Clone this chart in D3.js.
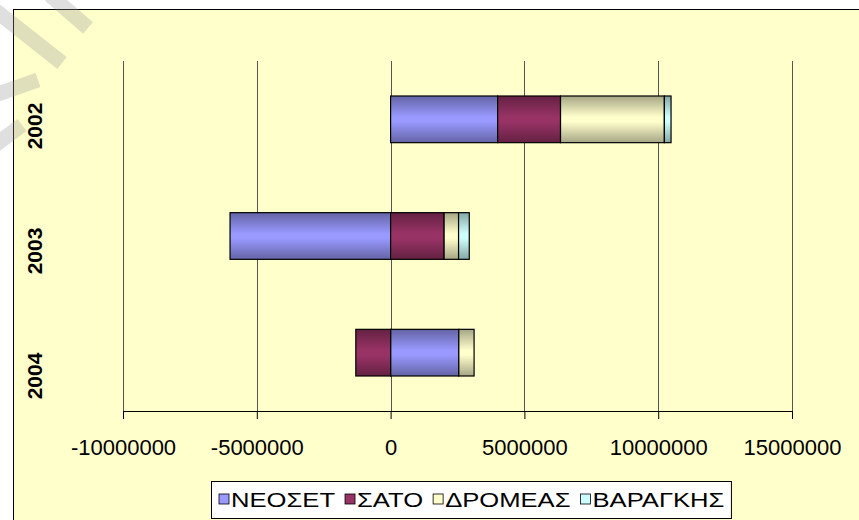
<!DOCTYPE html>
<html>
<head>
<meta charset="utf-8">
<script src="https://cdn.jsdelivr.net/npm/d3@7"></script>
<style>
  body { margin: 0; background: #fff; }
  svg { display: block; font-family: "Liberation Sans", Arial, sans-serif; }
</style>
</head>
<body>
<svg id="chart" width="859" height="520"></svg>
<script>
// data
var years = ["2002", "2003", "2004"];
var seriesNames = ["ΝΕΟΣΕΤ", "ΣΑΤΟ", "ΔΡΟΜΕΑΣ", "ΒΑΡΑΓΚΗΣ"];
var neoset   = [4000000, -6000000, 2550000];
var sato     = [2350000,  2000000, -1300000];
var dromeas  = [3880000,   540000,  570000];
var varagkis = [ 250000,   400000,       0];
var xTicks = [-10000000, -5000000, 0, 5000000, 10000000, 15000000];

var colors = ["#9999FF", "#993366", "#FFFFCC", "#CCFFFF"];

var rows = years.map(function(y, i) {
    return {year: y, "ΝΕΟΣΕΤ": neoset[i], "ΣΑΤΟ": sato[i], "ΔΡΟΜΕΑΣ": dromeas[i], "ΒΑΡΑΓΚΗΣ": varagkis[i]};
});

var svg = d3.select("#chart");

// chart area
svg.append("rect")
    .attr("x", 13.5).attr("y", 9.5)
    .attr("width", 900).attr("height", 600)
    .attr("fill", "#FFFFCC")
    .attr("stroke", "#000");

var x = d3.scaleLinear().domain([-10000000, 15000000]).range([123, 792]);
var y = d3.scaleBand().domain(years).range([61, 411]).paddingInner(0.6).paddingOuter(0.3);
// the rotated year labels sit a bit off the bar centres
var yLab = d3.scalePoint().domain(years).range([126, 376]);

// gradients for the shaded bars
var defs = svg.append("defs");
colors.forEach(function(c, i) {
    var g = defs.append("linearGradient").attr("id", "g" + i)
        .attr("x1", 0).attr("y1", 0).attr("x2", 0).attr("y2", 1);
    var dark = d3.color(c).darker(1.2);
    g.append("stop").attr("offset", "0%").attr("stop-color", dark);
    g.append("stop").attr("offset", "45%").attr("stop-color", c);
    g.append("stop").attr("offset", "55%").attr("stop-color", c);
    g.append("stop").attr("offset", "100%").attr("stop-color", dark);
});

// gridlines
svg.append("g").selectAll("line")
    .data(xTicks)
    .enter().append("line")
    .attr("x1", function(d) { return Math.round(x(d)) + 0.5; })
    .attr("x2", function(d) { return Math.round(x(d)) + 0.5; })
    .attr("y1", 61).attr("y2", 411)
    .attr("stroke", "#555").attr("stroke-width", 1);

// stacked bars
var stack = d3.stack().keys(seriesNames).offset(d3.stackOffsetDiverging);
var layers = stack(rows);

svg.append("g").selectAll("g")
    .data(layers)
    .enter().append("g")
    .attr("fill", function(d, i) { return "url(#g" + i + ")"; })
    .selectAll("rect")
    .data(function(d) { return d; })
    .enter().append("rect")
    .filter(function(d) { return d[1] !== d[0]; })
    .attr("x", function(d) { return x(Math.min(d[0], d[1])); })
    .attr("width", function(d) { return Math.abs(x(d[1]) - x(d[0])); })
    .attr("y", function(d) { return y(d.data.year); })
    .attr("height", y.bandwidth())
    .attr("stroke", "#000").attr("stroke-width", 1.2);

// x axis
var xAxis = d3.axisBottom(x).tickValues(xTicks).tickSize(8).tickPadding(20)
    .tickFormat(function(d) { return String(d); });
var ax = svg.append("g").attr("transform", "translate(0,411)").call(xAxis);
ax.select(".domain").attr("stroke", "#000");
ax.selectAll(".tick line").attr("stroke", "#000");
ax.selectAll("text").attr("font-size", "22px").attr("fill", "#000")
    .attr("font-family", "Liberation Sans, Arial, sans-serif");

// category labels (rotated)
svg.append("g").selectAll("text")
    .data(years)
    .enter().append("text")
    .attr("transform", function(d) {
        return "translate(42," + yLab(d) + ") rotate(-90)";
    })
    .attr("text-anchor", "middle")
    .attr("font-size", "21px").attr("font-weight", "bold")
    .text(function(d) { return d; });

// legend
var leg = svg.append("g");
var legBox = leg.append("rect")
    .attr("y", 481.5).attr("height", 37)
    .attr("fill", "#fff").attr("stroke", "#000");
var cx = 219;
var stretch = 1.22;
seriesNames.forEach(function(name, i) {
    leg.append("rect")
        .attr("x", cx).attr("y", 494).attr("width", 10).attr("height", 10)
        .attr("fill", colors[i]).attr("stroke", "#000").attr("stroke-width", 0.8);
    var t = leg.append("text")
        .attr("transform", "translate(" + (cx + 12) + ",507) scale(" + stretch + ",1)")
        .attr("font-size", "21px")
        .text(name);
    cx = cx + 12 + t.node().getComputedTextLength() * stretch + 10;
});
legBox.attr("x", 211.5).attr("width", cx - 211.5 - 3);

// faint watermark strokes in the corner
var wm = svg.append("g").attr("stroke", "rgba(150,150,150,0.3)")
    .attr("stroke-width", 15).attr("stroke-linecap", "butt");
wm.append("line").attr("x1", 50).attr("y1", -5).attr("x2", 88).attr("y2", 28);
wm.append("line").attr("x1", -5).attr("y1", 10).attr("x2", 62).attr("y2", 63);
wm.append("line").attr("x1", -5).attr("y1", 95).attr("x2", 38).attr("y2", 80);
wm.append("line").attr("x1", -5).attr("y1", 145).attr("x2", 22).attr("y2", 125);
</script>
</body>
</html>
